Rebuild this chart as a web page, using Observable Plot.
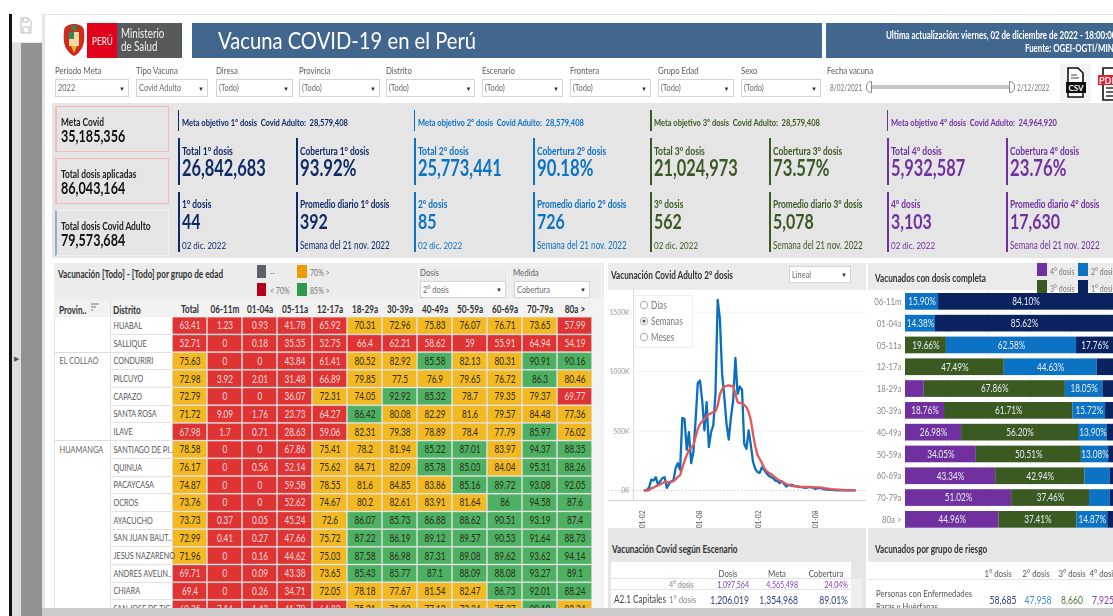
<!DOCTYPE html>
<html lang="es"><head><meta charset="utf-8">
<script src="https://cdn.jsdelivr.net/npm/d3@7"></script>
<script src="https://cdn.jsdelivr.net/npm/@observablehq/plot@0.6"></script>
<style>
html,body{margin:0;padding:0;background:#fff;overflow:hidden;width:1113px;height:616px}
#page{position:relative;width:1113px;height:616px;overflow:hidden;font-family:Lato,"Open Sans",sans-serif;filter:blur(.45px)}
#page div.b{position:absolute;box-sizing:border-box}
#page span.t{position:absolute;white-space:pre;line-height:1}
.w{position:absolute;overflow:hidden}
.w svg{display:block}
</style></head><body><div id="page"></div>
<script>
// ---------- datos ----------
const titulo = "Vacuna COVID-19 en el Perú";
const actualizacion = ["Ultima actualización: viernes, 02 de diciembre de 2022 - 18:00:00", "Fuente: OGEI-OGTI/MINSA"];
const filtrosNombre = ["Período Meta","Tipo Vacuna","Diresa","Provincia","Distrito","Escenario","Frontera","Grupo Edad","Sexo"];
const filtrosValor = ["2022","Covid Adulto","(Todo)","(Todo)","(Todo)","(Todo)","(Todo)","(Todo)","(Todo)"];
const resumenNombre = ["Meta Covid","Total dosis aplicadas","Total dosis Covid Adulto"];
const resumenValor = ["35,185,356","86,043,164","79,573,684"];
const dosis = ["1°","2°","3°","4°"];
const metaObjetivo = ["28,579,408","28,579,408","28,579,408","24,964,920"];
const totalDosis = ["26,842,683","25,773,441","21,024,973","5,932,587"];
const cobertura = ["93.92%","90.18%","73.57%","23.76%"];
const dosisDia = ["44","85","562","3,103"];
const promedioDiario = ["392","726","5,078","17,630"];
const colorDosis = ["#0f2a68","#0b72c4","#3a5a22","#7030a0"];

const columnas = ["Total","06-11m","01-04a","05-11a","12-17a","18-29a","30-39a","40-49a","50-59a","60-69a","70-79a","80a >"];
const provincias = ["","","EL COLLAO","","","","","HUAMANGA","","","","","","","","",""];
const distritos = ["HUABAL","SALLIQUE","CONDURIRI","PILCUYO","CAPAZO","SANTA ROSA","ILAVE","SANTIAGO DE PI..","QUINUA","PACAYCASA","OCROS","AYACUCHO","SAN JUAN BAUT..","JESUS NAZARENO","ANDRES AVELIN..","CHIARA","SAN JOSE DE TIC.."];
const coberturaTabla = [
[63.41,1.23,0.93,41.78,65.92,70.31,72.96,75.83,76.07,76.71,73.65,57.99],
[52.71,0,0.18,35.35,52.75,66.4,62.21,58.62,59,55.91,64.94,54.19],
[75.63,0,0,43.84,61.41,80.52,82.92,85.58,82.13,80.31,90.91,90.16],
[72.98,3.92,2.01,31.48,66.89,79.85,77.5,76.9,79.65,76.72,86.3,80.46],
[72.79,0,0,36.07,72.31,74.05,92.92,85.32,78.7,79.35,79.37,69.77],
[71.72,9.09,1.76,23.73,64.27,86.42,80.08,82.29,81.6,79.57,84.48,77.36],
[67.98,1.7,0.71,28.63,59.06,82.31,79.38,78.89,78.4,77.79,85.97,76.02],
[78.58,0,0,67.86,75.41,78.2,81.94,85.22,87.01,83.97,94.37,88.35],
[76.17,0,0.56,52.14,75.62,84.71,82.09,85.78,85.03,84.04,95.31,88.26],
[74.87,0,0,59.58,78.55,81.6,84.85,83.86,85.16,89.72,93.08,92.05],
[73.76,0,0,52.62,74.67,80.2,82.61,83.91,81.64,86,94.58,87.6],
[73.73,0.37,0.05,45.24,72.6,86.07,85.73,86.88,88.62,90.51,93.19,87.4],
[72.99,0.41,0.27,47.66,75.72,87.22,86.19,89.12,89.57,90.53,91.64,88.73],
[71.96,0,0.16,44.62,75.03,87.58,86.98,87.31,89.08,89.62,93.62,94.14],
[69.71,0,0.09,43.38,73.65,85.43,85.77,87.1,88.09,88.08,93.27,89.1],
[69.4,0,0.26,34.71,72.05,78.18,77.67,81.54,82.47,86.73,92.01,88.24],
[69.25,7.14,1.43,41.79,64.83,75.21,71.93,77.12,72.34,75.27,90.19,83.24]];

const semanaInicio = "2021-02-08";
const semanal = [3,3,28,92,84,112,50,78,104,112,22,56,78,84,190,230,174,610,603,342,490,230,322,588,903,925,757,505,743,365,490,547,813,1604,1444,981,785,561,429,617,757,1116,813,875,847,393,350,505,379,238,182,154,149,196,174,146,126,112,107,84,79,62,79,56,34,45,48,45,36,34,28,28,25,22,31,28,25,14,17,22,17,11,8,8,6,6,3,1,1,2,1,1,2,2,2,1];
const promedioMovil = [0,0,3,20,25,35,42,50,62,74,72,70,72,78,95,115,130,190,250,295,340,360,380,450,518,560,580,600,625,640,650,660,665,715,810,855,875,880,885,880,880,813,745,735,735,720,700,660,590,470,370,300,265,230,190,165,150,140,125,110,95,85,75,65,55,48,42,38,35,33,32,31,30,30,29,28,28,27,27,27,24,20,18,15,12,10,9,8,7,6,5,4,4,3,3,2];
const ejeFechas = ["2021-02-01","2021-08-01","2022-02-01","2022-08-01"];
const opcionesTiempo = ["Días","Semanas","Meses"];

const grupos = ["06-11m","01-04a","05-11a","12-17a","18-29a","30-39a","40-49a","50-59a","60-69a","70-79a","80a >"];
const pct4 = [0,0,0,0,9.0,18.76,26.98,34.05,43.34,51.02,44.96];
const pct3 = [0,0,19.66,47.49,67.86,61.71,56.20,50.51,42.94,37.46,37.41];
const pct2 = [15.90,14.38,62.58,44.63,18.05,15.72,13.90,13.08,12.2,10.0,14.87];
const pct1 = [84.10,85.62,17.76,7.88,5.09,3.81,2.92,2.36,1.52,1.52,2.76];

const escenarioCol = ["Dosis","Meta","Cobertura"];
const escenarioFilaA = ["4° dosis","1,097,564","4,565,498","24.04%"];
const escenarioFilaB = ["A2.1 Capitales","1° dosis","1,206,019","1,354,968","89.01%"];
const riesgoCol = ["1° dosis","2° dosis","3° dosis","4° dosis"];
const riesgoNombre = ["Personas con Enfermedades","Raras y Huérfanas"];
const riesgoValor = ["58,685","47,958","8,660","7,925"];

// ---------- ayudas ----------
const page = document.getElementById("page");
const SX = 0.78;
function B(x,y,w,h,style){const d=document.createElement("div");d.className="b";
  d.style.cssText=`left:${x}px;top:${y}px;width:${w}px;height:${h}px;${style||""}`;page.appendChild(d);return d;}
function T(x,cy,s,size,color,weight,anchor,sx){const e=document.createElement("span");e.className="t";e.textContent=s;
  anchor=anchor||"start";sx=sx||SX;
  const tx=anchor==="start"?"0":anchor==="end"?"-100%":"-50%";
  const o=anchor==="start"?"0% 50%":anchor==="end"?"100% 50%":"50% 50%";
  e.style.cssText=`left:${x}px;top:${cy}px;font-size:${size}px;color:${color};font-weight:${weight||400};transform-origin:${o};transform:translate(${tx},-50%) scaleX(${sx})`;
  page.appendChild(e);return e;}
function squeeze(svg,k){svg.querySelectorAll("text").forEach(t=>{t.setAttribute("transform",(t.getAttribute("transform")||"")+` scale(${k},1)`)});return svg;}
function place(svg,x,y,w,h){const d=document.createElement("div");d.className="w";d.style.cssText=`left:${x}px;top:${y}px;width:${w}px;height:${h}px`;d.appendChild(svg);page.appendChild(d);return d;}
function HTMLsvg(x,y,w,h,inner){const d=document.createElement("div");d.className="w";d.style.cssText=`left:${x}px;top:${y}px;width:${w}px;height:${h}px`;
  d.innerHTML=`<svg width="${w}" height="${h}" viewBox="0 0 ${w} ${h}">${inner}</svg>`;page.appendChild(d);}
function Sel(x,w,y,h,s,size){B(x,y,w,h,"background:#fff;border:1.5px solid #d4d4d4");T(x+3,y+h/2,s,size||10,"#6a6a6a");T(x+w-7,y+h/2+.5,"▼",6,"#333",400,"middle",1);}

// ---------- marco izquierdo ----------
B(9,14,2.5,602,"background:#111");
B(11.5,42,9.5,574,"background:#dfdfdf");
B(21,42,21,574,"background:#929292");
B(42,14,3,602,"background:#e6e6e6");
B(11.5,41.5,30.5,1,"background:#e8e8e8");
B(45,14,1068,1,"background:#e6e6e6");
HTMLsvg(19,17,14,18,`<path d="M2 1h7l3 3v12H2z M4 1v4h5V1 M4 16v-6h6v6" fill="none" stroke="#bdbdbd" stroke-width="1"/>`);
T(14,358,"▶",7,"#555",400,"start",1);

// ---------- encabezado ----------
HTMLsvg(62,23,24,34,`<path d="M2 8C2 3 7 1 12 1s10 2 10 7c1 8 0 16-4 20-2 3-4 4-6 5-2-1-4-2-6-5C2 24 1 16 2 8z" fill="#cf2a1e"/><rect x="7" y="9" width="10" height="14" fill="#f3d9a0"/><rect x="7" y="9" width="5" height="7" fill="#2e8a57"/><path d="M9 23l3 7 3-7z" fill="#e6b420"/><circle cx="12" cy="5" r="3" fill="#3f7f4f"/>`);
B(87,22.5,29.5,35,"background:#e2001a");
B(116.5,22.5,65.5,35,"background:#58595b");
T(92,41,"PERÚ",10.5,"#fff",400);
T(121,34,"Ministerio",12.5,"#f0f0f0",400);
T(121,47,"de Salud",12.5,"#f0f0f0",400);
B(192,23,630,35,"background:#41678f");
B(826,23,287,35,"background:#41678f");
T(218,41,titulo,23.5,"#fff",400,"start",.86);
T(886,35,actualizacion[0],10.5,"#fff",700,"start",.755);
T(1025,48,actualizacion[1],10.5,"#fff",700,"start",.75);

// ---------- filtros ----------
const filtrosX=[55,136,216,299,386.4,482,570,658,740.6];
const filtrosW=[74,72,77,81,89,81,81,75.5,80.4];
filtrosNombre.forEach((n,i)=>{T(filtrosX[i],70,n,10,"#5b5b5b");Sel(filtrosX[i],filtrosW[i],79,18,filtrosValor[i],9.5);});
T(827,70,"Fecha vacuna",10,"#5b5b5b");
T(830,87,"8/02/2021",9,"#777","400","start",.72);
B(870,85,140,4,"background:#c6c6c6;border-radius:2px");
B(866,81,6,12,"background:#fff;border:1px solid #888;border-radius:5px 0 0 5px");
B(1009,81,6,12,"background:#fff;border:1px solid #888;border-radius:0 5px 5px 0");
T(1017,87,"2/12/2022",9,"#777","400","start",.72);
B(1060,64,31,38,"background:#f3f3f3");
HTMLsvg(1065,67,22,32,`<path d="M3 1h10l5 5v24H3z" fill="#fff" stroke="#111" stroke-width="1.6"/><path d="M6 8h6M6 11h8" stroke="#444" stroke-width="1.2"/><rect x="1" y="15" width="20" height="11" fill="#0c0c0c"/><text x="11" y="24" font-size="8" font-weight="700" fill="#fff" text-anchor="middle" font-family="Lato">CSV</text>`);
HTMLsvg(1098,66,15,36,`<path d="M5 2h12v32H5z" fill="#fff" stroke="#111" stroke-width="1.6"/><path d="M8 22h8M8 26h8M8 30h8" stroke="#333" stroke-width="1.5"/><rect x="0" y="9" width="20" height="10" fill="#ee1c2e"/><text x="1" y="17.5" font-size="9" font-weight="700" fill="#fff" font-family="Lato">PDF</text>`);

// ---------- panel KPI ----------
B(52,103,1061,155,"background:#e5e5e5");
const cardY=[106,158,210],cardBorder=["#f4b9b9","#f4b9b9","#f0f0f0"],cardLeft=["#f4b9b9","#f4b9b9","#8fb0d4"];
resumenNombre.forEach((n,i)=>{
  B(55,cardY[i],114,45.5,`border:1.5px solid ${cardBorder[i]};border-left:2.5px solid ${cardLeft[i]}`);
  T(61,cardY[i]+14.5,n,11,"#222",700,"start",.76);
  T(61,cardY[i]+28.5,resumenValor[i],17,"#111",700,"start",.74);
});
dosis.forEach((d,i)=>{
  const X=177.5+236.4*i,c=colorDosis[i],X2=X+118.9;
  B(X,110,1.5,21,`background:${c}`);
  T(X+4,122.5,`Meta objetivo ${d} dosis  Covid Adulto:  ${metaObjetivo[i]}`,9.5,c,700,"start",.79);
  B(X,138,2,47,`background:${c}`);B(X2,138,2,47,`background:${c}`);
  B(X,192,2,60,`background:${c}`);B(X2,192,2,60,`background:${c}`);
  T(X+4,150,`Total ${d} dosis`,11,c,700,"start",.78);
  T(X+4,167.5,totalDosis[i],22,c,700,"start",.745);
  T(X2+4,150,`Cobertura ${d} dosis`,11,c,700,"start",.76);
  T(X2+4,167.5,cobertura[i],22,c,700,"start",.76);
  T(X+4,202.5,`${d} dosis`,11,c,700,"start",.76);
  T(X+4,219.5,dosisDia[i],21,c,700,"start",.76);
  T(X+4,245,"02 dic. 2022",10,c,400,"start",.8);
  T(X2+4,202.5,`Promedio diario ${d} dosis`,11,c,700,"start",.75);
  T(X2+4,219.5,promedioDiario[i],21,c,700,"start",.76);
  T(X2+4,245,"Semana del 21 nov. 2022",10.5,c,400,"start",.77);
});

// ---------- panel tabla ----------
B(54,263,550,345,"background:#fff;border-left:1.5px solid #e2e2e2");
B(54,263,550,37,"background:#ececec");
B(54,299,537,17.7,"background:#f1f1f1");
B(591,300,13,308,"background:#f3f3f3");
T(58,273.5,"Vacunación [Todo] - [Todo] por grupo de edad",10.5,"#333",700);
const leyendaTabla=[[256.7,265,"#5c6068","--"],[297,265,"#ea9c00","70% >"],[256.7,283,"#b5001c","< 70%"],[297,283,"#2e9a49","85% >"]];
leyendaTabla.forEach(([x,y,c,s])=>{B(x,y,9.5,13,`background:${c}`);T(x+13,y+7,s,9,"#777");});
B(418,265,90,35,"border:1px solid #f5f5f5");B(510,265,92,35,"border:1px solid #f5f5f5");
T(420,272,"Dosis",10,"#666");T(513,272,"Medida",10,"#666");
Sel(420,86,281,17,"2° dosis",9.5);Sel(514,76,281,17,"Cobertura",9.5);
T(59,309.5,"Provin..",10.5,"#333",700);
HTMLsvg(90,303,10,9,`<path d="M1 1h8M1 4h5M1 7h2" stroke="#777" stroke-width="1"/>`);
T(113,309.5,"Distrito",10.5,"#333",700);
distritos.forEach((_,i)=>{B(110,316.7+17.7*(i+1)-.5,62,1,"background:#e2e2e2");});
[2,7].forEach(i=>B(55,316.7+17.7*i-.5,55,1,"background:#dcdcdc"));
B(109.5,299,1,309,"background:#e0e0e0");

const rojo="#e03333",ambar="#f3b922",verde="#4db162";
const celdas = coberturaTabla.flatMap((fila,i)=>fila.map((v,j)=>({dist:distritos[i],col:columnas[j],v})));
const filas = distritos.map((d,i)=>({d,p:provincias[i]}));
const tabla = Plot.plot({
  width:540,height:330,margin:0,style:{fontFamily:"Lato",background:"transparent"},
  x:{axis:null,domain:columnas,range:[118,538],padding:0,round:false},
  y:{axis:null,domain:distritos,range:[17.7,17.7+17*17.7],padding:0,round:false},
  color:{type:"threshold",domain:[70,85],range:[rojo,ambar,verde]},
  marks:[
    Plot.cell(celdas,{x:"col",y:"dist",fill:"v",inset:.5,stroke:"#cfcfcf",strokeOpacity:.45}),
    Plot.text(celdas,{x:"col",y:"dist",text:d=>String(d.v),fontSize:10.5,fill:d=>d.v<70?"#f6dede":"#2d2a1a"}),
    Plot.text(columnas,{x:d=>d,text:d=>d,frameAnchor:"top",lineAnchor:"middle",dy:10.5,fontSize:10.5,fontWeight:"bold",fill:"#333"}),
    Plot.text(filas,{y:"d",text:"d",frameAnchor:"left",textAnchor:"start",dx:59,fontSize:9.2,fill:"#555"}),
    Plot.text(filas.filter(f=>f.p),{y:"d",text:"p",frameAnchor:"left",textAnchor:"start",dx:5,fontSize:9.5,fill:"#666"})
  ]});
place(squeeze(tabla,SX),54,299,540,309);

// ---------- panel linea ----------
B(608,263,258,265,"background:#fff");
B(608,263,258,27,"background:#ebebeb");
T(611,275,"Vacunación Covid Adulto 2° dosis",10.5,"#333",700);
Sel(789,62,266,17,"Lineal",9.5);
B(632.5,290,1,210,"background:#d9d9d9");
B(608,500,258,1,"background:#d4d4d4");
const fechaIni=new Date(semanaInicio+"T00:00:00Z");
const fechas=semanal.map((_,i)=>d3.utcDay.offset(fechaIni,7*i));
const ticksX=ejeFechas.map(s=>new Date(s+"T00:00:00Z"));
const linea=Plot.plot({
  width:258,height:238,margin:0,style:{fontFamily:"Lato",background:"transparent"},
  x:{type:"utc",domain:[ticksX[0],ticksX[3]],range:[34,206.5],label:null},
  y:{domain:[0,1500],range:[200,21.7],label:null},
  marks:[
    Plot.ruleY([500,1000,1500],{stroke:"#f1f1f1"}),
    Plot.ruleY([0],{stroke:"#cfcfcf",strokeDasharray:"1.5,2"}),
    Plot.axisY({ticks:[0,500,1000,1500],tickFormat:d=>d+"K",tickSize:0,tickPadding:0,anchor:"left",dx:21,fontSize:8.5,fill:"#999",textAnchor:"end",label:null}),
    Plot.axisX({ticks:ticksX,tickFormat:d3.utcFormat("%d-%m"),tickSize:0,anchor:"bottom",tickRotate:-90,tickPadding:0,dy:-18,fontSize:8.5,fill:"#555",textAnchor:"end",label:null}),
    Plot.line(semanal.map((v,i)=>({f:fechas[i],v})),{x:"f",y:"v",stroke:"#0b6fc0",strokeWidth:2.3}),
    Plot.line(promedioMovil.map((v,i)=>({f:fechas[i],v})),{x:"f",y:"v",stroke:"#e4565a",strokeWidth:2.3})
  ]});
place(squeeze(linea,SX),608,290,258,238);
B(635,295,58,53,"background:rgba(255,255,255,.9);border:1px solid #eee");
opcionesTiempo.forEach((s,i)=>{
  const cy=304.7+16*i;
  HTMLsvg(639,cy-5,10,10,`<circle cx="5" cy="5" r="3.7" fill="#fff" stroke="#aaa"/>${i===1?'<circle cx="5" cy="5" r="1.6" fill="#555"/>':''}`);
  T(651,cy,s,10.5,"#777");
});

// ---------- panel barras ----------
B(868,263,245,265,"background:#fff");
B(868,263,245,27,"background:#ebebeb");
T(875,277.5,"Vacunados con dosis completa",10.5,"#333",700);
const nombresDosis=["4° dosis","3° dosis","2° dosis","1° dosis"];
const colorBarras=["#7030a0","#3a5a22","#0b72c4","#0a2360"];
const apilado=grupos.flatMap((g,i)=>[pct4[i],pct3[i],pct2[i],pct1[i]].map((p,j)=>({g,p,z:nombresDosis[j]})));
const barras=Plot.plot({
  width:245,height:240,margin:0,style:{fontFamily:"Lato",background:"transparent"},
  x:{axis:null,domain:[0,100],range:[37,245]},
  y:{domain:grupos,range:[.45,240.25],paddingInner:.234,paddingOuter:.117,round:false,label:null},
  color:{domain:nombresDosis,range:colorBarras},
  marks:[
    Plot.ruleX([0,20,40,60,80],{stroke:"#f0f0f0"}),
    Plot.axisY({tickSize:0,tickPadding:4,anchor:"left",dx:37,fontSize:10,fill:"#888",label:null}),
    Plot.barX(apilado,Plot.stackX({x:"p",y:"g",z:"z",fill:"z",order:nombresDosis})),
    Plot.text(apilado,Plot.stackX({x:"p",y:"g",z:"z",order:nombresDosis,text:d=>d.p>=12.5?d.p.toFixed(2)+"%":"",fontSize:10.5,fill:"#e9eef2"}))
  ]});
place(squeeze(barras,SX),868,290,245,240);
const leyendaBarras=[[1037,263,12.5,0],[1037,280,13,1],[1078,263,12.5,2],[1078,280,13,3]];
leyendaBarras.forEach(([x,y,h,i])=>{B(x,y,9.5,h,`background:${colorBarras[i]}`);T(x+13,y+7.5,nombresDosis[i],9,"#777");});

// ---------- panel inferior ----------
B(608,528,258,80,"background:#e6e6e6");
B(868,528,245,80,"background:#e6e6e6");
B(866,263,2,345,"background:#fff");
T(612,549,"Vacunación Covid según Escenario",10.5,"#333",700);
T(875,549,"Vacunados por grupo de riesgo",10.5,"#333",700);
B(611,562,240,46,"background:#fff");
B(851,579,11,29,"background:#efefef");
B(868,562,245,46,"background:#fff");
T(669,583.5,escenarioFilaA[0],9,"#888");
[749,798,848].forEach((x,i)=>T(x,583.5,escenarioFilaA[i+1],9,"#8a3cb6",400,"end"));
B(611,589,240,1,"background:#e4e4e4");
B(611,578,240,1,"background:#e4e4e4");
[728,777,826].forEach((x,i)=>T(x,572.5,escenarioCol[i],10,"#555",400,"middle"));
T(614,599,escenarioFilaB[0],10.5,"#444");
T(669,599,escenarioFilaB[1],10,"#888");
[749,798,848].forEach((x,i)=>T(x,599,escenarioFilaB[i+2],11,"#2c3e85",400,"end"));
const riesgoX=[998,1036,1072,1103],riesgoVX=[1003,1038,1072,1103],riesgoC=["#2c3e85","#3c8ed0","#4f7a3a","#8a3cb6"];
riesgoCol.forEach((s,i)=>T(riesgoX[i],572.5,s,10,"#555",400,"middle"));
B(868,579,245,1,"background:#e4e4e4");
T(876,593,riesgoNombre[0],10,"#555");
T(876,606,riesgoNombre[1],10,"#555");
riesgoValor.forEach((s,i)=>T(riesgoVX[i],599,s,11,riesgoC[i],400,"middle"));

// ---------- barra de desplazamiento ----------
B(42,608,1071,8,"background:#cbcbcb");
</script></body></html>
